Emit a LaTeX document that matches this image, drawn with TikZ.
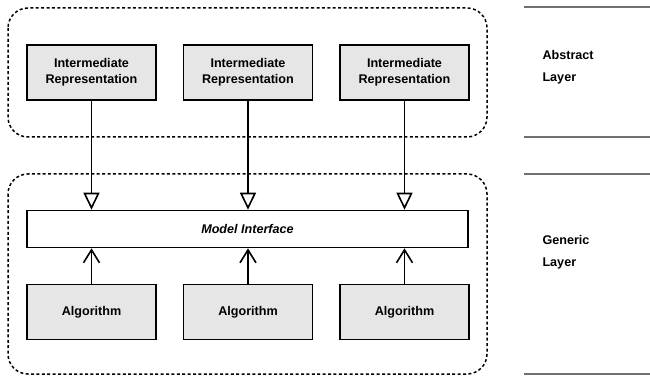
\documentclass[tikz,border=0pt]{standalone}
\usepackage{fontspec}
\setmainfont{Liberation Sans}
\usetikzlibrary{arrows.meta}
\definecolor{boxgray}{HTML}{E6E6E6}
\definecolor{rulegray}{HTML}{707070}
\begin{document}
\begin{tikzpicture}[x=1pt,y=-1pt,
  font=\fontsize{12.6}{16}\selectfont\bfseries,
  layer/.style={draw, line width=1.5pt, dash pattern=on 3pt off 2.4pt, rounded corners=20pt},
  comp/.style={draw, line width=1.6pt, fill=boxgray, minimum width=129pt, minimum height=55pt, align=center, inner sep=0pt},
  iface/.style={draw, line width=1.6pt, fill=white, minimum width=441pt, minimum height=37pt, inner sep=0pt},
  uses/.style={line width=1.6pt, -{Triangle[open, width=16pt, length=17pt, fill=white]}},
  calls/.style={line width=1.6pt, -{Straight Barb[width=16pt, length=13pt]}},
  sep/.style={draw=rulegray, line width=1.3pt},
  label/.style={anchor=north west, align=left, font=\fontsize{12.6}{22}\selectfont\bfseries}]
\useasboundingbox (0,0) rectangle (650,379);

% layer outlines
\draw[layer] (8,8) rectangle (487,137);
\draw[layer] (8,174) rectangle (487,374);

% abstract layer components
\node[comp] (ir1) at (91.5,72.5) {Intermediate\\Representation};
\node[comp] (ir2) at (248,72.5) {Intermediate\\Representation};
\node[comp] (ir3) at (404.5,72.5) {Intermediate\\Representation};

% generic layer
\node[iface] (mi) at (247.5,229) {\itshape Model Interface};
\node[comp] (al1) at (91.5,312) {Algorithm};
\node[comp] (al2) at (248,312) {Algorithm};
\node[comp] (al3) at (404.5,312) {Algorithm};

% connectors
\foreach \i in {1,2,3} {
  \draw[uses] (ir\i.south) -- (ir\i.south |- mi.north);
  \draw[calls] (al\i.north) -- (al\i.north |- mi.south);
}

% layer rules and captions
\coordinate (r0a) at (524,7);   \coordinate (r0b) at (650,7);
\coordinate (r1a) at (524,137); \coordinate (r1b) at (650,137);
\coordinate (r2a) at (524,174); \coordinate (r2b) at (650,174);
\coordinate (r3a) at (524,374); \coordinate (r3b) at (650,374);
\draw[sep] (r0a) -- (r0b);
\draw[sep] (r1a) -- (r1b);
\draw[sep] (r2a) -- (r2b);
\draw[sep] (r3a) -- (r3b);
\node[label] (abs) at (539,47) {Abstract\\Layer};
\node[label] (gen) at (539,232) {Generic\\Layer};
\end{tikzpicture}
\end{document}
